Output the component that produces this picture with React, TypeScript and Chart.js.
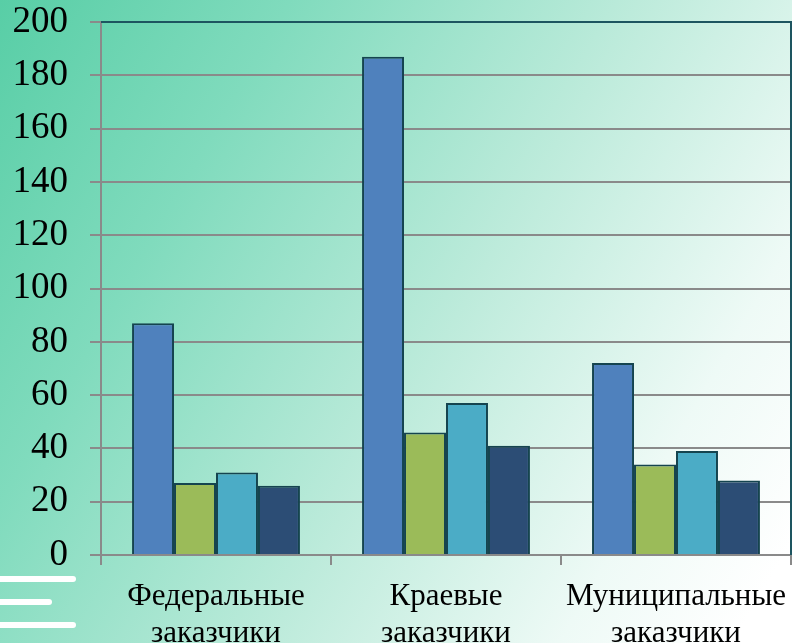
import React, { useEffect, useRef } from "react";
import { Chart, registerables } from "chart.js";

Chart.register(...registerables);

const categories: string[][] = [
  ["Федеральные", "заказчики"],
  ["Краевые", "заказчики"],
  ["Муниципальные", "заказчики"],
];
const series1 = [87, 187, 72];
const series2 = [27, 46, 34];
const series3 = [31, 57, 39];
const series4 = [26, 41, 28];
const seriesColors = ["#4F81BD", "#9BBB59", "#4BACC6", "#2C4D75"];
const yTicks = { min: 0, max: 200, step: 20 };

const frame = {
  id: "frame",
  afterDraw(chart: any) {
    const { ctx, chartArea } = chart;
    ctx.save();
    ctx.strokeStyle = "#1d5560";
    ctx.lineWidth = 2;
    ctx.beginPath();
    ctx.moveTo(chartArea.left, chartArea.top);
    ctx.lineTo(chartArea.right, chartArea.top);
    ctx.lineTo(chartArea.right, chartArea.bottom);
    ctx.stroke();
    ctx.restore();
  },
};

export default function App() {
  const ref = useRef<HTMLCanvasElement | null>(null);
  useEffect(() => {
    if (!ref.current) return;
    const all = [series1, series2, series3, series4];
    const chart = new Chart(ref.current, {
      type: "bar",
      data: {
        labels: categories,
        datasets: all.map((d, i) => ({
          label: "s" + (i + 1),
          data: d,
          backgroundColor: seriesColors[i],
          borderColor: "#15444f",
          borderWidth: 2,
          categoryPercentage: 0.73,
          barPercentage: 1,
        })),
      },
      options: {
        animation: false,
        responsive: false,
        maintainAspectRatio: false,
        layout: { padding: { top: 22, right: 1, left: 0, bottom: 0 } },
        plugins: { legend: { display: false }, tooltip: { enabled: false } },
        scales: {
          x: {
            grid: {
              display: true,
              drawOnChartArea: false,
              drawTicks: true,
              tickLength: 10,
              color: "#8a8a8a",
              lineWidth: 2,
            },
            border: { color: "#8a8a8a", width: 2 },
            ticks: {
              color: "#000",
              font: { family: "Liberation Serif", size: 31 },
              padding: 13,
              maxRotation: 0,
              autoSkip: false,
            },
            afterFit(scale: any) {
              scale.height = 88;
              scale.paddingLeft = 0;
              scale.paddingRight = 0;
            },
          },
          y: {
            min: yTicks.min,
            max: yTicks.max,
            ticks: {
              stepSize: yTicks.step,
              color: "#000",
              font: { family: "Liberation Serif", size: 37 },
              padding: 22,
            },
            grid: {
              color: "#8a8a8a",
              lineWidth: 2,
              tickLength: 11,
            },
            border: { color: "#8a8a8a", width: 2 },
            afterFit(scale: any) {
              scale.width = 101;
              scale.paddingTop = 0;
              scale.paddingBottom = 0;
            },
          },
        },
      },
      plugins: [frame],
    });
    return () => chart.destroy();
  }, []);

  const line = (top: number, width: number): React.CSSProperties => ({
    position: "absolute",
    left: 0,
    top,
    width,
    height: 6,
    background: "#ffffff",
    borderRadius: "0 3px 3px 0",
  });

  return (
    <div
      style={{
        position: "absolute",
        left: 0,
        top: 0,
        width: 792,
        height: 643,
        overflow: "hidden",
        background:
          "linear-gradient(120deg, #58ceA6 0%, #80dbbd 25%, #bdebdb 55%, #eefaf6 80%, #ffffff 95%)",
      }}
    >
      <canvas ref={ref} width={792} height={643} style={{ position: "absolute", left: 0, top: 0 }} />
      <div style={line(576, 76)} />
      <div style={line(599, 52)} />
      <div style={line(622, 76)} />
    </div>
  );
}
